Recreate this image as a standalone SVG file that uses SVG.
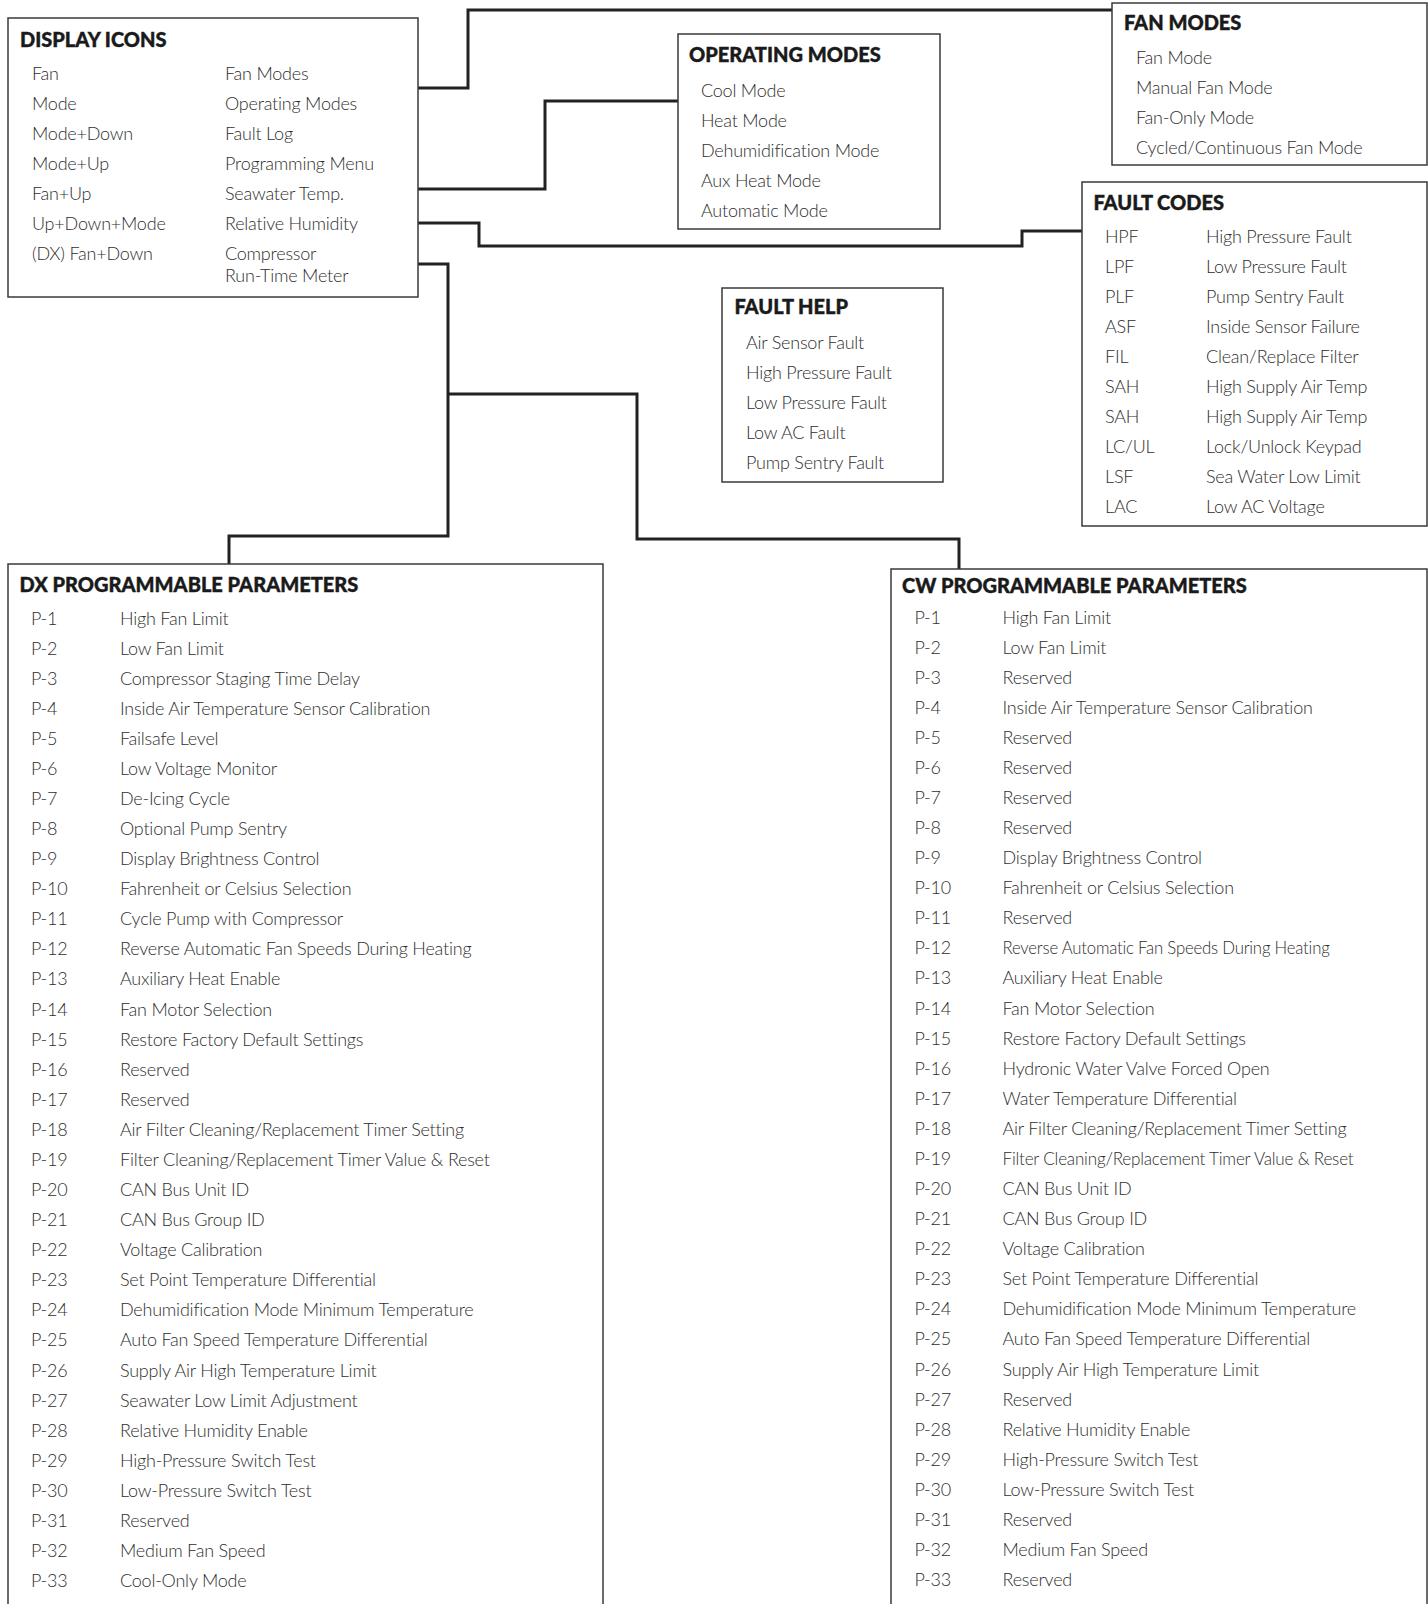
<svg xmlns="http://www.w3.org/2000/svg" width="1428" height="1604" viewBox="0 0 1428 1604">
<style>
.box{fill:#fff;stroke:#3a3a3a;stroke-width:1.5}
.conn{fill:none;stroke:#222;stroke-width:3;stroke-linejoin:miter}
.t{font-family:Lato,"Liberation Sans",sans-serif;font-weight:900;font-size:20px;fill:#1a1a1a;stroke:#1a1a1a;stroke-width:0.4}
.i{font-family:Lato,"Liberation Sans",sans-serif;font-weight:300;font-size:18px;letter-spacing:-0.22px;fill:#2e2e2e}
</style>
<rect width="1428" height="1604" fill="#fff"/>
<g id="connectors">
<path class="conn" d="M418,88 H468 V10 H1112"/>
<path class="conn" d="M418,189 H545 V101 H678"/>
<path class="conn" d="M418,223 H479 V246 H1022 V231 H1082"/>
<path class="conn" d="M418,264 H448 V536 H229 V564"/>
<path class="conn" d="M448,394 H637 V539 H959 V569"/>
</g>
<g id="display-icons">
<rect class="box" x="8" y="18" width="410" height="279"/>
<text class="t" x="20" y="47">DISPLAY ICONS</text>
<g class="i">
<text x="32" y="80">Fan</text><text x="225" y="80">Fan Modes</text>
<text x="32" y="110">Mode</text><text x="225" y="110">Operating Modes</text>
<text x="32" y="140">Mode+Down</text><text x="225" y="140">Fault Log</text>
<text x="32" y="170">Mode+Up</text><text x="225" y="170">Programming Menu</text>
<text x="32" y="200">Fan+Up</text><text x="225" y="200">Seawater Temp.</text>
<text x="32" y="230">Up+Down+Mode</text><text x="225" y="230">Relative Humidity</text>
<text x="32" y="260">(DX) Fan+Down</text><text x="225" y="260">Compressor</text>
<text x="225" y="282">Run-Time Meter</text>
</g>
</g>
<g id="operating-modes">
<rect class="box" x="678" y="34" width="262" height="195"/>
<text class="t" x="689" y="62">OPERATING MODES</text>
<g class="i">
<text x="701" y="96.5">Cool Mode</text>
<text x="701" y="126.5">Heat Mode</text>
<text x="701" y="156.5">Dehumidification Mode</text>
<text x="701" y="186.5">Aux Heat Mode</text>
<text x="701" y="216.5">Automatic Mode</text>
</g>
</g>
<g id="fan-modes">
<rect class="box" x="1112" y="3" width="315" height="162"/>
<text class="t" x="1124" y="29.5">FAN MODES</text>
<g class="i">
<text x="1136" y="64">Fan Mode</text>
<text x="1136" y="94">Manual Fan Mode</text>
<text x="1136" y="124">Fan-Only Mode</text>
<text x="1136" y="154">Cycled/Continuous Fan Mode</text>
</g>
</g>
<g id="fault-codes">
<rect class="box" x="1082" y="182" width="345" height="344"/>
<text class="t" x="1093.5" y="209.5">FAULT CODES</text>
<g class="i">
<text x="1105" y="243">HPF</text><text x="1206" y="243">High Pressure Fault</text>
<text x="1105" y="273">LPF</text><text x="1206" y="273">Low Pressure Fault</text>
<text x="1105" y="303">PLF</text><text x="1206" y="303">Pump Sentry Fault</text>
<text x="1105" y="333">ASF</text><text x="1206" y="333">Inside Sensor Failure</text>
<text x="1105" y="363">FIL</text><text x="1206" y="363">Clean/Replace Filter</text>
<text x="1105" y="393">SAH</text><text x="1206" y="393">High Supply Air Temp</text>
<text x="1105" y="423">SAH</text><text x="1206" y="423">High Supply Air Temp</text>
<text x="1105" y="453">LC/UL</text><text x="1206" y="453">Lock/Unlock Keypad</text>
<text x="1105" y="483">LSF</text><text x="1206" y="483">Sea Water Low Limit</text>
<text x="1105" y="513">LAC</text><text x="1206" y="513">Low AC Voltage</text>
</g>
</g>
<g id="fault-help">
<rect class="box" x="722" y="288" width="221" height="194"/>
<text class="t" x="734.5" y="314">FAULT HELP</text>
<g class="i">
<text x="746" y="349">Air Sensor Fault</text>
<text x="746" y="379">High Pressure Fault</text>
<text x="746" y="409">Low Pressure Fault</text>
<text x="746" y="439">Low AC Fault</text>
<text x="746" y="469">Pump Sentry Fault</text>
</g>
</g>
<g id="dx-parameters">
<rect class="box" x="8" y="564" width="595" height="1100"/>
<text class="t" x="19.5" y="592">DX PROGRAMMABLE PARAMETERS</text>
<g class="i">
<text x="31" y="624.5">P-1</text><text x="120" y="624.5">High Fan Limit</text>
<text x="31" y="654.6">P-2</text><text x="120" y="654.6">Low Fan Limit</text>
<text x="31" y="684.7">P-3</text><text x="120" y="684.7">Compressor Staging Time Delay</text>
<text x="31" y="714.7">P-4</text><text x="120" y="714.7">Inside Air Temperature Sensor Calibration</text>
<text x="31" y="744.8">P-5</text><text x="120" y="744.8">Failsafe Level</text>
<text x="31" y="774.9">P-6</text><text x="120" y="774.9">Low Voltage Monitor</text>
<text x="31" y="805">P-7</text><text x="120" y="805">De-Icing Cycle</text>
<text x="31" y="835">P-8</text><text x="120" y="835">Optional Pump Sentry</text>
<text x="31" y="865.1">P-9</text><text x="120" y="865.1">Display Brightness Control</text>
<text x="31" y="895.2">P-10</text><text x="120" y="895.2">Fahrenheit or Celsius Selection</text>
<text x="31" y="925.3">P-11</text><text x="120" y="925.3">Cycle Pump with Compressor</text>
<text x="31" y="955.4">P-12</text><text x="120" y="955.4">Reverse Automatic Fan Speeds During Heating</text>
<text x="31" y="985.4">P-13</text><text x="120" y="985.4">Auxiliary Heat Enable</text>
<text x="31" y="1015.5">P-14</text><text x="120" y="1015.5">Fan Motor Selection</text>
<text x="31" y="1045.6">P-15</text><text x="120" y="1045.6">Restore Factory Default Settings</text>
<text x="31" y="1075.7">P-16</text><text x="120" y="1075.7">Reserved</text>
<text x="31" y="1105.8">P-17</text><text x="120" y="1105.8">Reserved</text>
<text x="31" y="1135.8">P-18</text><text x="120" y="1135.8">Air Filter Cleaning/Replacement Timer Setting</text>
<text x="31" y="1165.9">P-19</text><text x="120" y="1165.9">Filter Cleaning/Replacement Timer Value &amp; Reset</text>
<text x="31" y="1196">P-20</text><text x="120" y="1196">CAN Bus Unit ID</text>
<text x="31" y="1226.1">P-21</text><text x="120" y="1226.1">CAN Bus Group ID</text>
<text x="31" y="1256.1">P-22</text><text x="120" y="1256.1">Voltage Calibration</text>
<text x="31" y="1286.2">P-23</text><text x="120" y="1286.2">Set Point Temperature Differential</text>
<text x="31" y="1316.3">P-24</text><text x="120" y="1316.3">Dehumidification Mode Minimum Temperature</text>
<text x="31" y="1346.4">P-25</text><text x="120" y="1346.4">Auto Fan Speed Temperature Differential</text>
<text x="31" y="1376.5">P-26</text><text x="120" y="1376.5">Supply Air High Temperature Limit</text>
<text x="31" y="1406.5">P-27</text><text x="120" y="1406.5">Seawater Low Limit Adjustment</text>
<text x="31" y="1436.6">P-28</text><text x="120" y="1436.6">Relative Humidity Enable</text>
<text x="31" y="1466.7">P-29</text><text x="120" y="1466.7">High-Pressure Switch Test</text>
<text x="31" y="1496.8">P-30</text><text x="120" y="1496.8">Low-Pressure Switch Test</text>
<text x="31" y="1526.9">P-31</text><text x="120" y="1526.9">Reserved</text>
<text x="31" y="1556.9">P-32</text><text x="120" y="1556.9">Medium Fan Speed</text>
<text x="31" y="1587">P-33</text><text x="120" y="1587">Cool-Only Mode</text>
</g>
</g>
<g id="cw-parameters">
<rect class="box" x="891" y="569" width="536" height="1100"/>
<text class="t" x="902" y="593">CW PROGRAMMABLE PARAMETERS</text>
<g class="i">
<text x="914.5" y="623.5">P-1</text><text x="1002.5" y="623.5">High Fan Limit</text>
<text x="914.5" y="653.6">P-2</text><text x="1002.5" y="653.6">Low Fan Limit</text>
<text x="914.5" y="683.7">P-3</text><text x="1002.5" y="683.7">Reserved</text>
<text x="914.5" y="713.7">P-4</text><text x="1002.5" y="713.7">Inside Air Temperature Sensor Calibration</text>
<text x="914.5" y="743.8">P-5</text><text x="1002.5" y="743.8">Reserved</text>
<text x="914.5" y="773.9">P-6</text><text x="1002.5" y="773.9">Reserved</text>
<text x="914.5" y="804">P-7</text><text x="1002.5" y="804">Reserved</text>
<text x="914.5" y="834">P-8</text><text x="1002.5" y="834">Reserved</text>
<text x="914.5" y="864.1">P-9</text><text x="1002.5" y="864.1">Display Brightness Control</text>
<text x="914.5" y="894.2">P-10</text><text x="1002.5" y="894.2">Fahrenheit or Celsius Selection</text>
<text x="914.5" y="924.3">P-11</text><text x="1002.5" y="924.3">Reserved</text>
<text x="914.5" y="954.4">P-12</text><text x="1002.5" y="954.4" textLength="327" lengthAdjust="spacingAndGlyphs">Reverse Automatic Fan Speeds During Heating</text>
<text x="914.5" y="984.4">P-13</text><text x="1002.5" y="984.4">Auxiliary Heat Enable</text>
<text x="914.5" y="1014.5">P-14</text><text x="1002.5" y="1014.5">Fan Motor Selection</text>
<text x="914.5" y="1044.6">P-15</text><text x="1002.5" y="1044.6">Restore Factory Default Settings</text>
<text x="914.5" y="1074.7">P-16</text><text x="1002.5" y="1074.7">Hydronic Water Valve Forced Open</text>
<text x="914.5" y="1104.8">P-17</text><text x="1002.5" y="1104.8">Water Temperature Differential</text>
<text x="914.5" y="1134.8">P-18</text><text x="1002.5" y="1134.8">Air Filter Cleaning/Replacement Timer Setting</text>
<text x="914.5" y="1164.9">P-19</text><text x="1002.5" y="1164.9" textLength="351" lengthAdjust="spacingAndGlyphs">Filter Cleaning/Replacement Timer Value &amp; Reset</text>
<text x="914.5" y="1195">P-20</text><text x="1002.5" y="1195">CAN Bus Unit ID</text>
<text x="914.5" y="1225.1">P-21</text><text x="1002.5" y="1225.1">CAN Bus Group ID</text>
<text x="914.5" y="1255.1">P-22</text><text x="1002.5" y="1255.1">Voltage Calibration</text>
<text x="914.5" y="1285.2">P-23</text><text x="1002.5" y="1285.2">Set Point Temperature Differential</text>
<text x="914.5" y="1315.3">P-24</text><text x="1002.5" y="1315.3">Dehumidification Mode Minimum Temperature</text>
<text x="914.5" y="1345.4">P-25</text><text x="1002.5" y="1345.4">Auto Fan Speed Temperature Differential</text>
<text x="914.5" y="1375.5">P-26</text><text x="1002.5" y="1375.5">Supply Air High Temperature Limit</text>
<text x="914.5" y="1405.5">P-27</text><text x="1002.5" y="1405.5">Reserved</text>
<text x="914.5" y="1435.6">P-28</text><text x="1002.5" y="1435.6">Relative Humidity Enable</text>
<text x="914.5" y="1465.7">P-29</text><text x="1002.5" y="1465.7">High-Pressure Switch Test</text>
<text x="914.5" y="1495.8">P-30</text><text x="1002.5" y="1495.8">Low-Pressure Switch Test</text>
<text x="914.5" y="1525.9">P-31</text><text x="1002.5" y="1525.9">Reserved</text>
<text x="914.5" y="1555.9">P-32</text><text x="1002.5" y="1555.9">Medium Fan Speed</text>
<text x="914.5" y="1586">P-33</text><text x="1002.5" y="1586">Reserved</text>
</g>
</g>
</svg>
